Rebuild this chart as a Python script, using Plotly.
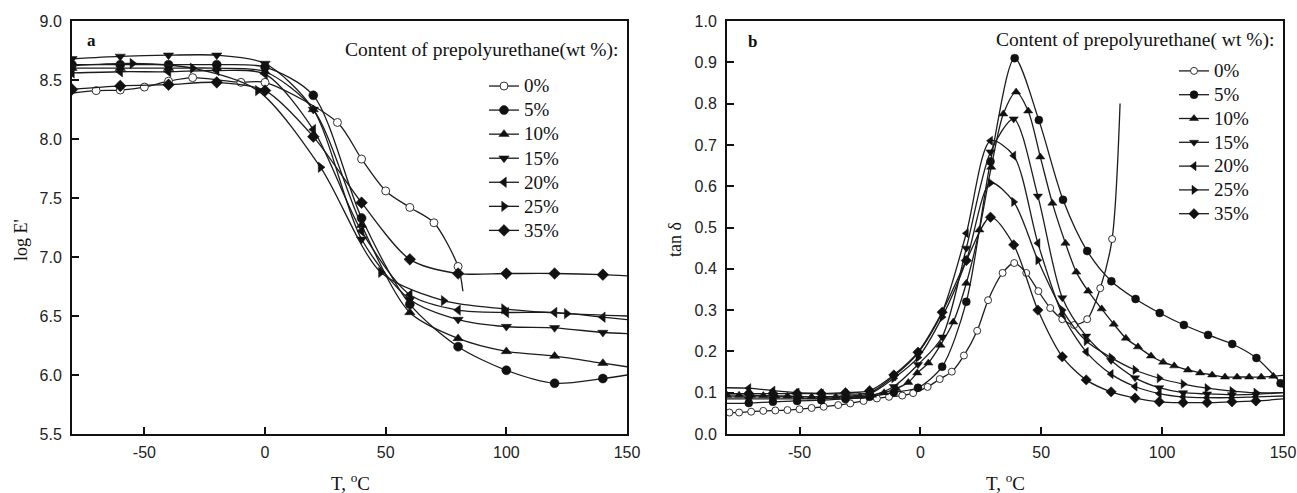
import plotly.graph_objects as go

# ---------------- Panel a : log E' vs T ----------------
T_a = [-80, -60, -40, -20, 0, 20, 40, 60, 80, 100, 120, 140]
T_a_tail = [150]

logE_5 = [8.63, 8.63, 8.63, 8.63, 8.61, 8.37, 7.33, 6.60, 6.24, 6.04, 5.93, 5.97]
logE_5_tail = [6.00]
logE_10 = [8.60, 8.60, 8.60, 8.60, 8.57, 8.25, 7.27, 6.53, 6.31, 6.20, 6.16, 6.10]
logE_10_tail = [6.07]
logE_15 = [8.68, 8.70, 8.71, 8.71, 8.64, 8.25, 7.15, 6.64, 6.47, 6.41, 6.40, 6.36]
logE_15_tail = [6.35]
logE_20 = [8.56, 8.57, 8.57, 8.58, 8.55, 8.08, 7.22, 6.68, 6.55, 6.53, 6.53, 6.49]
logE_20_tail = [6.47]
logE_35 = [8.42, 8.45, 8.46, 8.48, 8.41, 8.02, 7.46, 6.98, 6.86, 6.86, 6.86, 6.85]
logE_35_tail = [6.84]

T_a_25 = [-55, -30, -3, 23, 48, 74, 99, 125]
logE_25 = [8.64, 8.60, 8.41, 7.76, 6.87, 6.63, 6.56, 6.52]
T_a_25_head, logE_25_head = [-80], [8.62]
T_a_25_tail, logE_25_tail = [150], [6.50]

T_a_0 = [-70, -60, -50, -40, -30, -10, 0, 30, 40, 50, 60, 70, 80]
logE_0 = [8.41, 8.415, 8.44, 8.49, 8.52, 8.48, 8.48, 8.14, 7.83, 7.56, 7.42, 7.29, 6.92]
T_a_0_head, logE_0_head = [-80], [8.39]
T_a_0_tail, logE_0_tail = [82], [6.71]

# ---------------- Panel b : tan delta vs T ----------------
T_b = [-71, -61, -51, -41, -31, -21, -11, -1, 9, 19, 29, 39, 49, 59, 69, 79, 89, 99, 109, 119, 129, 139, 149]
tan_5 = [0.075, 0.078, 0.080, 0.082, 0.085, 0.090, 0.101, 0.112, 0.163, 0.320, 0.660, 0.910, 0.760,
         0.567, 0.443, 0.370, 0.327, 0.293, 0.264, 0.240, 0.218, 0.184, 0.123]
tan_5_head, tan_5_tail = [0.074], [0.112]

T_b_10 = [-80, -75, -70, -65, -60, -55, -50, -45, -40, -35, -30, -25, -20, -15, -10, -5, -1.3, 3.3,
          8.3, 13.6, 19, 24.4, 29.3, 34.3, 39.6, 44.6, 49.6, 54.6, 60, 64.5, 69.4, 75, 80, 85, 90,
          95.4, 100.4, 105, 110.7, 115.7, 120.7, 126, 131, 136, 141, 146]
tan_10 = [0.094, 0.094, 0.094, 0.093, 0.092, 0.092, 0.091, 0.090, 0.090, 0.090, 0.090, 0.091, 0.094,
          0.100, 0.110, 0.125, 0.148, 0.172, 0.215, 0.271, 0.365, 0.494, 0.646, 0.775, 0.828, 0.782,
          0.671, 0.559, 0.462, 0.392, 0.346, 0.303, 0.266, 0.232, 0.211, 0.189, 0.174, 0.165, 0.155,
          0.148, 0.143, 0.138, 0.138, 0.138, 0.138, 0.140]
tan_10_tail = [0.142]

T_b2 = [-71, -61, -51, -41, -31, -21, -11, -1, 9, 19, 29, 38.6, 48.6, 58.7, 68.6, 78.9, 88.8, 98.8,
        108.7, 118.6, 128.9, 138.8]
tan_15 = [0.085, 0.085, 0.085, 0.086, 0.088, 0.092, 0.115, 0.168, 0.235, 0.450, 0.683, 0.763, 0.576,
          0.330, 0.237, 0.178, 0.136, 0.112, 0.100, 0.097, 0.095, 0.096]
tan_15_head, tan_15_tail = [0.085], [0.100]
tan_20 = [0.111, 0.105, 0.100, 0.098, 0.097, 0.100, 0.140, 0.196, 0.295, 0.486, 0.710, 0.674, 0.462,
          0.290, 0.199, 0.145, 0.115, 0.098, 0.090, 0.088, 0.088, 0.090]
tan_20_head, tan_20_tail = [0.112], [0.092]
tan_25 = [0.090, 0.090, 0.090, 0.090, 0.092, 0.097, 0.135, 0.185, 0.283, 0.420, 0.608, 0.562, 0.421,
          0.300, 0.225, 0.185, 0.155, 0.135, 0.121, 0.111, 0.104, 0.100]
tan_25_head, tan_25_tail = [0.090], [0.100]
tan_35 = [0.098, 0.098, 0.098, 0.098, 0.100, 0.105, 0.143, 0.198, 0.295, 0.420, 0.525, 0.458, 0.300,
          0.187, 0.131, 0.102, 0.087, 0.078, 0.076, 0.076, 0.078, 0.080]
tan_35_head, tan_35_tail = [0.098], [0.085]

T_b_0 = [-79, -75, -70, -65, -60, -55, -50, -45, -40, -34, -29, -23.5, -18, -13, -7.5, -3, 3, 8, 13,
         18, 23.5, 28, 34, 38.8, 43.8, 48.8, 53.7, 58.7, 63.6, 69, 74.4, 79.3]
tan_0 = [0.052, 0.052, 0.054, 0.056, 0.057, 0.058, 0.060, 0.063, 0.066, 0.070, 0.074, 0.080, 0.086,
         0.090, 0.093, 0.099, 0.114, 0.133, 0.151, 0.190, 0.250, 0.324, 0.390, 0.414, 0.390, 0.346,
         0.305, 0.278, 0.264, 0.278, 0.353, 0.472]
T_b_0_tail, tan_0_tail = [82.6], [0.80]

HEAD_B, TAIL_B = [-80], [150]

x_tickvals = [-50, 0, 50, 100, 150]
x_ticktext = ["-50", "0", "50", "100", "150"]

labels = ["0%", "5%", "10%", "15%", "20%", "25%", "35%"]
symbols = ["circle", "circle", "triangle-up", "triangle-down", "triangle-left", "triangle-right", "diamond"]

panel_a = [
    (T_a_0, logE_0, T_a_0_head, logE_0_head, T_a_0_tail, logE_0_tail),
    (T_a, logE_5, [], [], T_a_tail, logE_5_tail),
    (T_a, logE_10, [], [], T_a_tail, logE_10_tail),
    (T_a, logE_15, [], [], T_a_tail, logE_15_tail),
    (T_a, logE_20, [], [], T_a_tail, logE_20_tail),
    (T_a_25, logE_25, T_a_25_head, logE_25_head, T_a_25_tail, logE_25_tail),
    (T_a, logE_35, [], [], T_a_tail, logE_35_tail),
]
panel_b = [
    (T_b_0, tan_0, [], [], T_b_0_tail, tan_0_tail),
    (T_b, tan_5, HEAD_B, tan_5_head, TAIL_B, tan_5_tail),
    (T_b_10, tan_10, [], [], TAIL_B, tan_10_tail),
    (T_b2, tan_15, HEAD_B, tan_15_head, TAIL_B, tan_15_tail),
    (T_b2, tan_20, HEAD_B, tan_20_head, TAIL_B, tan_20_tail),
    (T_b2, tan_25, HEAD_B, tan_25_head, TAIL_B, tan_25_tail),
    (T_b2, tan_35, HEAD_B, tan_35_head, TAIL_B, tan_35_tail),
]

LINE = "#1c1c1c"
SERIF = "Liberation Serif"
SANS = "Liberation Sans"

W, H = 1297, 493
ML, MR, MT, MB = 72, 14, 21, 59
PW, PH = W - ML - MR, H - MT - MB


def px(x):
    return (x - ML) / PW


def py(y):
    return (H - MB - y) / PH


fig = go.Figure()


def marker_style(i, size):
    if i == 0:
        return dict(symbol="circle", size=size - 1, color="white", line=dict(color="#333", width=1))
    return dict(symbol=symbols[i], size=size, color="#111", line=dict(color="#111", width=0.5))


for panel, xa, ya, leg, msize in [(panel_a, "x", "y", "legend", 9), (panel_b, "x2", "y2", "legend2", 8)]:
    for i, (tx, vy, hx, hy, ex, ey) in enumerate(panel):
        fig.add_trace(go.Scatter(
            x=hx + tx + ex, y=hy + vy + ey, mode="lines",
            line=dict(color=LINE, width=1.3, shape="spline", smoothing=0.8),
            xaxis=xa, yaxis=ya, showlegend=False, hoverinfo="skip"))
        fig.add_trace(go.Scatter(
            x=tx, y=vy, mode="markers", marker=marker_style(i, msize),
            xaxis=xa, yaxis=ya, showlegend=False))
        fig.add_trace(go.Scatter(
            x=[None], y=[None], mode="lines+markers",
            name='<span style="font-size:19px">' + labels[i] + '</span>',
            line=dict(color=LINE, width=1.3), marker=marker_style(i, msize),
            xaxis=xa, yaxis=ya, legend=leg, showlegend=True))

axis_common = dict(
    showline=True, linecolor="#111", linewidth=2, mirror=True,
    ticks="inside", ticklen=7, tickwidth=1.5, tickcolor="#111",
    showgrid=False, zeroline=False,
    tickfont=dict(family=SANS, size=16, color="#222"),
)

fig.update_layout(
    width=W, height=H,
    margin=dict(l=ML, r=MR, t=MT, b=MB, autoexpand=False),
    plot_bgcolor="white", paper_bgcolor="white",
    xaxis=dict(domain=[0, px(627)], range=[-80, 150], tickvals=x_tickvals, ticktext=x_ticktext,
               anchor="y", ticklabelstandoff=3, **axis_common),
    yaxis=dict(domain=[0, 1], range=[5.5, 9.0], dtick=0.5, tickformat=".1f",
               anchor="x", ticklabelstandoff=5, **axis_common),
    xaxis2=dict(domain=[px(727), 1], range=[-80, 150], tickvals=x_tickvals, ticktext=x_ticktext,
                anchor="y2", ticklabelstandoff=3, **axis_common),
    yaxis2=dict(domain=[0, 1], range=[0, 1.0], dtick=0.1, tickformat=".1f",
                anchor="x2", ticklabelstandoff=5, **axis_common),
    legend=dict(x=px(484), y=py(69), xanchor="left", yanchor="top",
                bgcolor="rgba(0,0,0,0)", font=dict(family=SERIF, size=16.2, color="#111"),
                tracegroupgap=0, itemclick=False),
    legend2=dict(x=px(1174), y=py(54), xanchor="left", yanchor="top",
                 bgcolor="rgba(0,0,0,0)", font=dict(family=SERIF, size=16, color="#111"),
                 tracegroupgap=0, itemclick=False),
    showlegend=True,
)

ann = [
    dict(text="Content of prepolyurethane(wt %):", x=px(620), y=py(50), xanchor="right", yanchor="middle",
         font=dict(family=SERIF, size=19.5, color="#111")),
    dict(text="Content of prepolyurethane( wt %):", x=px(1276), y=py(40), xanchor="right", yanchor="middle",
         font=dict(family=SERIF, size=19.5, color="#111")),
    dict(text="<b>a</b>", x=px(91), y=py(41), xanchor="center", yanchor="middle",
         font=dict(family=SERIF, size=17, color="#111")),
    dict(text="<b>b</b>", x=px(752), y=py(42), xanchor="center", yanchor="middle",
         font=dict(family=SERIF, size=17, color="#111")),
    dict(text="log E'", x=px(21), y=py(240), xanchor="center", yanchor="middle", textangle=-90,
         font=dict(family=SERIF, size=18, color="#111")),
    dict(text="tan δ", x=px(675), y=py(240), xanchor="center", yanchor="middle", textangle=-90,
         font=dict(family=SERIF, size=18, color="#111")),
    dict(text="T, <sup>o</sup>C", x=px(350), y=py(482), xanchor="center", yanchor="middle",
         font=dict(family=SERIF, size=19, color="#111")),
    dict(text="T, <sup>o</sup>C", x=px(1005), y=py(482), xanchor="center", yanchor="middle",
         font=dict(family=SERIF, size=19, color="#111")),
]
for a in ann:
    a.update(xref="paper", yref="paper", showarrow=False)
fig.update_layout(annotations=ann)

fig.write_html("out.html", config={"displayModeBar": False},
               post_script="document.body.style.margin='0';document.body.style.overflow='hidden';")
